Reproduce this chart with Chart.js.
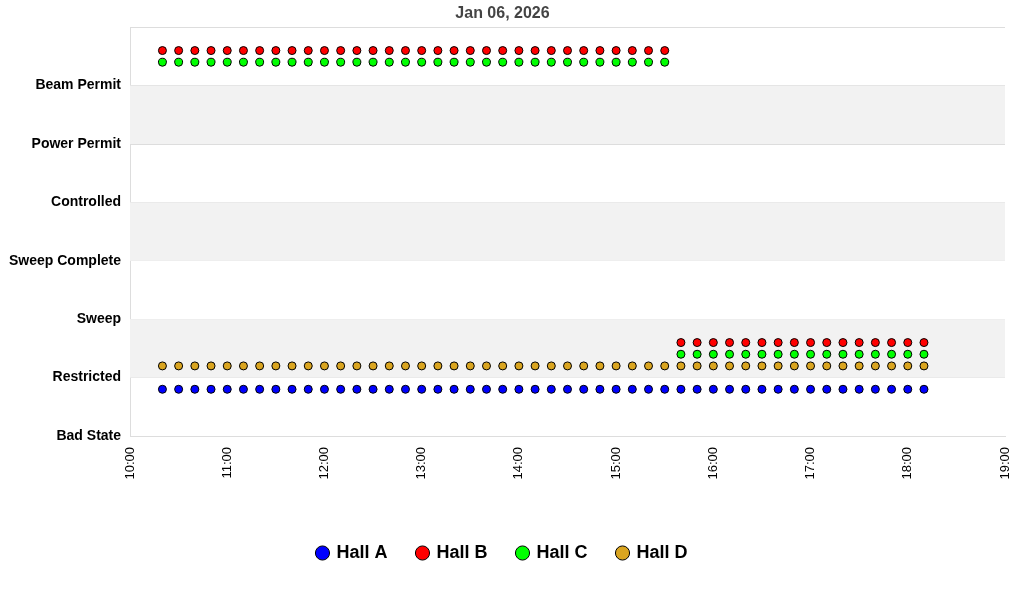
<!DOCTYPE html>
<html>
<head>
<meta charset="utf-8">
<script src="https://cdn.jsdelivr.net/npm/chart.js@4"></script>
<style>
  html, body { margin: 0; padding: 0; background: #fff; }
  #wrap { width: 1024px; height: 600px; }
</style>
</head>
<body>
<div id="wrap"><canvas id="c"></canvas></div>
<script>
// states, bottom to top
const STATES = ['Bad State', 'Restricted', 'Sweep', 'Sweep Complete', 'Controlled', 'Power Permit', 'Beam Permit'];

const TIMES = [
  '10:20','10:30','10:40','10:50','11:00','11:10','11:20','11:30','11:40','11:50',
  '12:00','12:10','12:20','12:30','12:40','12:50','13:00','13:10','13:20','13:30',
  '13:40','13:50','14:00','14:10','14:20','14:30','14:40','14:50','15:00','15:10',
  '15:20','15:30','15:40','15:50','16:00','16:10','16:20','16:30','16:40','16:50',
  '17:00','17:10','17:20','17:30','17:40','17:50','18:00','18:10'
];

// state index per time
const HALL_A = [1,1,1,1,1,1,1,1,1,1, 1,1,1,1,1,1,1,1,1,1, 1,1,1,1,1,1,1,1,1,1, 1,1,1,1,1,1,1,1,1,1, 1,1,1,1,1,1,1,1];
const HALL_B = [6,6,6,6,6,6,6,6,6,6, 6,6,6,6,6,6,6,6,6,6, 6,6,6,6,6,6,6,6,6,6, 6,6,1,1,1,1,1,1,1,1, 1,1,1,1,1,1,1,1];
const HALL_C = [6,6,6,6,6,6,6,6,6,6, 6,6,6,6,6,6,6,6,6,6, 6,6,6,6,6,6,6,6,6,6, 6,6,1,1,1,1,1,1,1,1, 1,1,1,1,1,1,1,1];
const HALL_D = [1,1,1,1,1,1,1,1,1,1, 1,1,1,1,1,1,1,1,1,1, 1,1,1,1,1,1,1,1,1,1, 1,1,1,1,1,1,1,1,1,1, 1,1,1,1,1,1,1,1];

const HALLS = [
  { label: 'Hall A', data: HALL_A, offset: -0.2, color: '#0000ff' },
  { label: 'Hall B', data: HALL_B, offset: 0.6,  color: '#ff0000' },
  { label: 'Hall C', data: HALL_C, offset: 0.4,  color: '#00ff00' },
  { label: 'Hall D', data: HALL_D, offset: 0.2,  color: '#daa520' },
];

function toMin(t) {
  const [h, m] = t.split(':').map(Number);
  return h * 60 + m;
}
function fmtMin(v) {
  const h = Math.floor(v / 60), m = v % 60;
  return String(h).padStart(2, '0') + ':' + String(m).padStart(2, '0');
}

// alternating shaded bands between state lines
const bandPlugin = {
  id: 'bands',
  beforeDatasetsDraw(chart) {
    const { ctx, chartArea: a, scales: { y } } = chart;
    ctx.save();
    ctx.fillStyle = '#f2f2f2';
    [1, 3, 5].forEach(lo => {
      const top = y.getPixelForValue(lo + 1), bot = y.getPixelForValue(lo);
      ctx.fillRect(a.left, top, a.right - a.left, bot - top);
    });
    ctx.restore();
  }
};

new Chart(document.getElementById('c').getContext('2d'), {
  type: 'scatter',
  data: {
    datasets: HALLS.map(h => ({
      label: h.label,
      data: TIMES.map((t, i) => ({ x: toMin(t), y: h.data[i] + h.offset })),
      backgroundColor: h.color,
      borderColor: '#000',
      borderWidth: 1,
      pointRadius: 4,
      pointStyle: 'circle',
    }))
  },
  options: {
    responsive: true,
    maintainAspectRatio: false,
    animation: false,
    layout: { padding: { left: 0, right: 19, top: 0, bottom: 28 } },
    plugins: {
      title: {
        display: true,
        text: 'Jan 06, 2026',
        color: '#444',
        font: { family: 'Liberation Sans, Arial, sans-serif', size: 16, weight: 'bold' },
        padding: { top: 4, bottom: 4 }
      },
      legend: {
        position: 'bottom',
        labels: {
          usePointStyle: true,
          pointStyle: 'circle',
          boxWidth: 10,
          boxHeight: 10,
          padding: 30,
          color: '#000',
          font: { family: 'Liberation Sans, Arial, sans-serif', size: 18, weight: 'bold' }
        }
      },
      tooltip: { enabled: false }
    },
    scales: {
      x: {
        type: 'linear',
        min: 600, max: 1140,
        afterFit: s => { s.height = 78; },
        grid: { display: false },
        border: { color: '#ddd' },
        ticks: {
          stepSize: 60,
          minRotation: 90, maxRotation: 90,
          color: '#000',
          font: { family: 'Liberation Sans, Arial, sans-serif', size: 13 },
          callback: v => fmtMin(v)
        }
      },
      y: {
        min: 0, max: 7,
        grid: { color: '#ddd', drawTicks: false },
        border: { color: '#ddd' },
        ticks: {
          stepSize: 1,
          padding: 9,
          color: '#000',
          font: { family: 'Liberation Sans, Arial, sans-serif', size: 14, weight: 'bold' },
          callback: v => STATES[v] || ''
        }
      }
    }
  },
  plugins: [bandPlugin]
});
</script>
</body>
</html>
